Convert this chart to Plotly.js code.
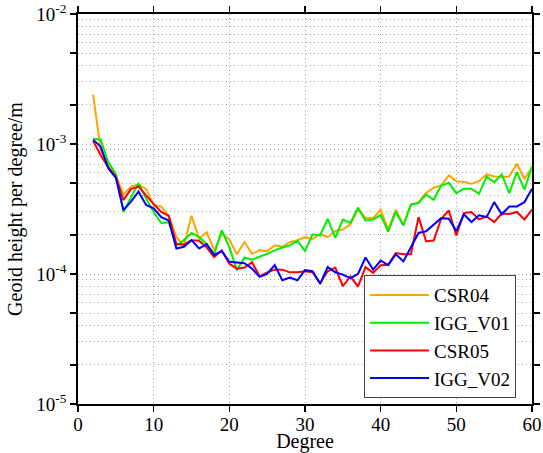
<!DOCTYPE html>
<html>
<head>
<meta charset="utf-8">
<script src="https://cdn.plot.ly/plotly-3.0.1.min.js"></script>
<style>html,body{margin:0;padding:0;background:#fff;}#chart{width:543px;height:453px;}</style>
</head>
<body>
<div id="chart"></div>
<script>
const degrees = [2,3,4,5,6,7,8,9,10,11,12,13,14,15,16,17,18,19,20,21,22,23,24,25,26,27,28,29,30,31,32,33,34,35,36,37,38,39,40,41,42,43,44,45,46,47,48,49,50,51,52,53,54,55,56,57,58,59,60];

const csr04 = [2.4e-3,9.0e-4,6.8e-4,5.75e-4,4.1e-4,4.7e-4,4.9e-4,4.5e-4,3.4e-4,3.3e-4,2.8e-4,1.92e-4,1.66e-4,2.8e-4,1.87e-4,2.1e-4,1.52e-4,2.04e-4,1.84e-4,1.42e-4,1.76e-4,1.43e-4,1.52e-4,1.5e-4,1.66e-4,1.62e-4,1.76e-4,1.82e-4,1.92e-4,1.85e-4,2.04e-4,1.92e-4,2.14e-4,2.2e-4,2.41e-4,3.13e-4,2.71e-4,2.68e-4,3.13e-4,2.2e-4,3.13e-4,2.37e-4,3.4e-4,3.57e-4,4.19e-4,4.61e-4,4.8e-4,5.73e-4,5.18e-4,5.1e-4,4.94e-4,5.18e-4,5.83e-4,5.62e-4,5.55e-4,5.62e-4,7.05e-4,5.4e-4,6.56e-4];

const iggV01 = [1.10e-3,1.08e-3,7.25e-4,5.9e-4,3.0e-4,3.9e-4,5.0e-4,3.8e-4,3.0e-4,2.47e-4,2.5e-4,1.66e-4,1.82e-4,2.07e-4,1.92e-4,1.7e-4,1.42e-4,2.17e-4,1.61e-4,1.07e-4,1.34e-4,1.29e-4,1.35e-4,1.43e-4,1.52e-4,1.6e-4,1.66e-4,1.8e-4,1.5e-4,2.02e-4,1.98e-4,2.66e-4,1.9e-4,2.62e-4,2.47e-4,3.24e-4,2.58e-4,2.62e-4,2.85e-4,2.12e-4,3.0e-4,2.37e-4,3.43e-4,3.51e-4,4.09e-4,3.72e-4,4.8e-4,5.03e-4,4.19e-4,4.53e-4,4.53e-4,4.14e-4,5.62e-4,5.09e-4,5.83e-4,4.19e-4,6.08e-4,4.45e-4,6.72e-4];

const csr05 = [1.06e-3,8.2e-4,6.6e-4,5.6e-4,3.7e-4,4.5e-4,4.7e-4,4.0e-4,3.45e-4,3.0e-4,2.8e-4,1.7e-4,1.68e-4,1.82e-4,1.8e-4,1.6e-4,1.35e-4,1.52e-4,1.2e-4,1.1e-4,1.12e-4,1.23e-4,9.6e-5,1.03e-4,1.08e-4,1.08e-4,1.03e-4,1.03e-4,1.05e-4,1.03e-4,8.5e-5,1.05e-4,1.12e-4,8.05e-5,9.6e-5,8.0e-5,1.13e-4,1.02e-4,1.17e-4,1.18e-4,1.45e-4,1.42e-4,1.42e-4,2.74e-4,1.79e-4,1.81e-4,2.66e-4,3.08e-4,1.98e-4,2.94e-4,3.0e-4,2.63e-4,2.77e-4,2.51e-4,2.92e-4,2.9e-4,3.0e-4,2.63e-4,3.13e-4];

const iggV02 = [1.08e-3,9.5e-4,6.5e-4,5.5e-4,3.1e-4,3.6e-4,4.3e-4,3.4e-4,3.2e-4,2.74e-4,2.58e-4,1.57e-4,1.62e-4,1.82e-4,1.57e-4,1.7e-4,1.40e-4,1.50e-4,1.24e-4,1.22e-4,1.21e-4,1.1e-4,9.5e-5,1.0e-4,1.17e-4,8.95e-5,9.4e-5,8.95e-5,1.07e-4,1.05e-4,8.4e-5,1.13e-4,1.03e-4,9.9e-5,9.3e-5,1.0e-4,1.34e-4,1.08e-4,1.27e-4,1.17e-4,1.42e-4,1.25e-4,1.61e-4,2.07e-4,2.13e-4,2.41e-4,2.69e-4,2.66e-4,2.14e-4,2.88e-4,2.51e-4,2.83e-4,2.74e-4,3.57e-4,2.88e-4,3.31e-4,3.31e-4,3.57e-4,4.53e-4];

const seriesNames = ['CSR04','IGG_V01','CSR05','IGG_V02'];
const seriesColors = ['#FFA500','#00EE00','#FF0000','#0000FF'];
const seriesData = [csr04, iggV01, csr05, iggV02];

const xTicks = [0,10,20,30,40,50,60];
const yMajorVals = [1e-5,2e-5,5e-5,1e-4,2e-4,5e-4,1e-3,2e-3,5e-3,1e-2];
const yMajorText = ['10<sup>-5</sup>','','','10<sup>-4</sup>','','','10<sup>-3</sup>','','','10<sup>-2</sup>'];
const yMinorVals = [];
[1e-5,1e-4,1e-3].forEach(d => [3,4,6,7,8,9].forEach(m => yMinorVals.push(m*d)));

const traces = seriesData.map((ys, i) => ({
  x: degrees, y: ys, type: 'scatter', mode: 'lines',
  name: seriesNames[i],
  line: {color: seriesColors[i], width: 2}
}));

const fontFam = 'Times New Roman, Liberation Serif, Tinos, serif';
const gridCol = '#a8a8a8';
const gridDash = '1px,3px';
const layout = {
  width: 543, height: 453,
  margin: {l: 78, r: 11, t: 14, b: 49},
  paper_bgcolor: '#fff', plot_bgcolor: '#fff',
  font: {family: fontFam, size: 19, color: '#000'},
  showlegend: true,
  legend: {
    x: 0.63, y: 0.015, xanchor: 'left', yanchor: 'bottom',
    bgcolor: '#fff', bordercolor: '#444', borderwidth: 1,
    font: {family: fontFam, size: 19, color: '#000'},
    tracegroupgap: 0, itemwidth: 59
  },
  xaxis: {
    range: [0, 60], tickmode: 'array', tickvals: xTicks,
    ticks: 'outside', ticklen: 6, tickwidth: 1.5, tickcolor: '#000',
    ticklabelstandoff: -4,
    showline: true, linecolor: '#000', linewidth: 1.8, mirror: 'ticks',
    showgrid: true, gridcolor: gridCol, griddash: gridDash, gridwidth: 1,
    zeroline: false,
    tickfont: {family: fontFam, size: 19},
    title: {text: 'Degree', font: {family: fontFam, size: 20}, standoff: 6}
  },
  yaxis: {
    type: 'log', range: [-5, -2], tickmode: 'array',
    tickvals: yMajorVals, ticktext: yMajorText,
    ticks: 'outside', ticklen: 6, tickwidth: 1.5, tickcolor: '#000',
    showline: true, linecolor: '#000', linewidth: 1.8, mirror: 'ticks',
    showgrid: true, gridcolor: gridCol, griddash: gridDash, gridwidth: 1,
    minor: {tickmode: 'array', tickvals: yMinorVals, ticks: '', showgrid: true, gridcolor: gridCol, griddash: gridDash, gridwidth: 1},
    zeroline: false,
    tickfont: {family: fontFam, size: 19},
    title: {text: 'Geoid height per degree/m', font: {family: fontFam, size: 20}, standoff: 8}
  }
};

Plotly.newPlot('chart', traces, layout, {displayModeBar: false, staticPlot: true});
</script>
</body>
</html>
